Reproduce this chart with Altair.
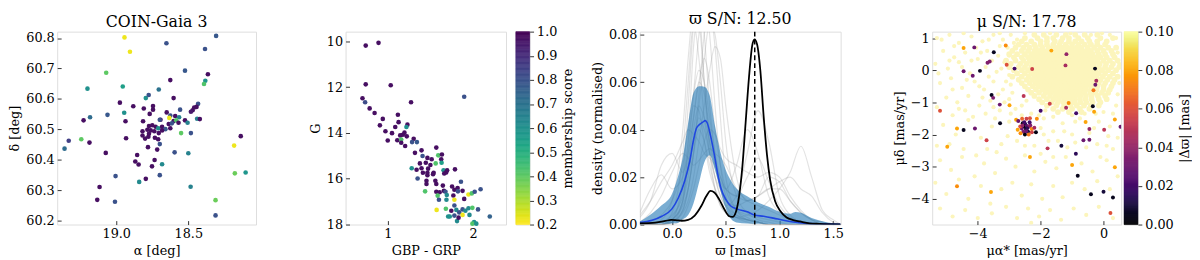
import altair as alt
import numpy as np
import pandas as pd

FONT = "DejaVu Serif"
H = 196

# ---------------- Panel 1: sky positions (alpha, delta, membership) ----------------
sky_points = [
    (18.943, 60.802, 0.22), (18.905, 60.755, 0.22), (18.652, 60.783, 0.80), (18.307, 60.807, 0.78),
    (18.384, 60.764, 0.80), (18.523, 60.693, 0.78), (19.070, 60.686, 0.40), (19.200, 60.634, 0.60),
    (18.955, 60.641, 0.55), (18.382, 60.660, 0.58), (18.391, 60.649, 0.42), (18.364, 60.681, 0.97),
    (18.625, 60.662, 0.97), (18.705, 60.631, 0.70), (18.795, 60.603, 0.60), (18.775, 60.613, 0.80),
    (18.602, 60.603, 0.97), (18.975, 60.588, 0.97), (18.882, 60.576, 0.97), (18.809, 60.569, 0.97),
    (18.745, 60.577, 0.97), (18.745, 60.565, 0.97), (18.557, 60.565, 0.80), (18.432, 60.584, 0.80),
    (18.459, 60.572, 0.97), (18.443, 60.574, 0.97), (18.470, 60.563, 0.97), (18.482, 60.558, 0.95),
    (19.061, 60.548, 0.78), (18.945, 60.555, 0.60), (19.182, 60.540, 0.72), (19.227, 60.530, 0.97),
    (18.936, 60.527, 0.97), (18.814, 60.527, 0.97), (18.768, 60.551, 0.97), (18.693, 60.532, 0.97),
    (18.650, 60.556, 0.97), (18.625, 60.546, 0.80), (18.602, 60.528, 0.97), (18.591, 60.544, 0.97),
    (18.564, 60.540, 0.65), (18.523, 60.530, 0.97), (18.505, 60.522, 0.65), (18.439, 60.535, 0.65),
    (18.420, 60.534, 0.97), (18.632, 60.538, 0.22), (18.584, 60.530, 0.42), (18.698, 60.532, 0.80),
    (18.773, 60.511, 0.97), (18.750, 60.514, 0.97), (18.727, 60.509, 0.97), (18.709, 60.504, 0.60),
    (18.682, 60.509, 0.97), (18.659, 60.501, 0.78), (18.636, 60.518, 0.97), (18.625, 60.504, 0.97),
    (18.614, 60.520, 0.80), (18.818, 60.494, 0.97), (18.784, 60.499, 0.97), (18.761, 60.497, 0.97),
    (18.736, 60.494, 0.97), (18.705, 60.488, 0.97), (18.682, 60.497, 0.97), (18.773, 60.486, 0.97),
    (18.777, 60.476, 0.97), (18.732, 60.473, 0.97), (18.709, 60.468, 0.97), (18.818, 60.480, 0.97),
    (18.800, 60.470, 0.97), (18.550, 60.488, 0.40), (18.568, 60.522, 0.97), (18.482, 60.488, 0.80),
    (19.243, 60.468, 0.40), (19.330, 60.463, 0.85), (19.359, 60.437, 0.72), (19.186, 60.457, 0.97),
    (18.932, 60.471, 0.97), (18.698, 60.452, 0.80), (18.780, 60.442, 0.97), (18.595, 60.425, 0.80),
    (18.500, 60.422, 0.65), (18.182, 60.447, 0.22), (18.136, 60.478, 0.97), (18.177, 60.356, 0.38),
    (18.102, 60.359, 0.58), (18.311, 60.268, 0.38), (18.311, 60.218, 0.80), (18.484, 60.312, 0.65),
    (19.073, 60.423, 0.97), (18.868, 60.395, 0.97), (18.845, 60.385, 0.97), (18.855, 60.416, 0.97),
    (18.752, 60.379, 0.97), (18.734, 60.400, 0.97), (18.682, 60.386, 0.62), (18.716, 60.434, 0.97),
    (19.005, 60.347, 0.80), (18.795, 60.338, 0.97), (18.698, 60.350, 0.80), (18.841, 60.328, 0.62),
    (19.116, 60.311, 0.97), (19.132, 60.269, 0.97), (19.009, 60.263, 0.80),
]

# ---------------- Panel 2: colour-magnitude diagram (BP-RP, G, membership) ----------------
cmd_points = [
    (0.742, 10.19, 0.97), (0.892, 10.07, 0.97), (0.742, 11.88, 0.97), (1.035, 11.92, 0.97),
    (0.704, 12.49, 0.97), (0.735, 12.66, 0.82), (1.896, 12.42, 0.80), (0.788, 12.93, 0.97),
    (0.846, 13.13, 0.97), (1.273, 12.66, 0.97), (1.119, 13.21, 0.97), (0.942, 13.39, 0.97),
    (1.127, 13.53, 0.97), (1.088, 13.74, 0.97), (0.908, 13.67, 0.97), (1.231, 13.64, 0.97),
    (1.219, 13.74, 0.60), (0.973, 13.93, 0.97), (1.050, 14.01, 0.97), (1.196, 13.99, 0.97),
    (1.177, 14.08, 0.97), (1.146, 14.11, 0.97), (1.000, 14.33, 0.97), (1.112, 14.32, 0.97),
    (1.223, 14.15, 0.97), (1.158, 14.29, 0.42), (1.158, 14.43, 0.97), (1.204, 14.57, 0.97),
    (1.304, 14.26, 0.97), (1.285, 14.40, 0.80), (1.342, 14.40, 0.78), (1.569, 14.64, 0.97),
    (1.319, 14.87, 0.97), (1.396, 14.76, 0.97), (1.408, 15.01, 0.80), (1.465, 15.09, 0.97),
    (1.592, 14.98, 0.42), (1.635, 14.94, 0.97), (1.515, 15.15, 0.97), (1.627, 15.15, 0.97),
    (1.446, 15.30, 0.97), (1.377, 15.33, 0.97), (1.500, 15.40, 0.97), (1.562, 15.33, 0.42),
    (1.631, 15.30, 0.55), (1.281, 15.54, 0.60), (1.338, 15.61, 0.97), (1.396, 15.54, 0.97),
    (1.473, 15.56, 0.97), (1.538, 15.74, 0.97), (1.654, 15.63, 0.60), (1.685, 15.73, 0.97),
    (1.662, 15.77, 0.97), (1.696, 15.63, 0.97), (1.788, 15.59, 0.97), (1.350, 15.99, 0.80),
    (1.412, 15.74, 0.97), (1.465, 15.85, 0.97), (1.465, 15.74, 0.97), (1.531, 15.80, 0.97),
    (1.454, 16.09, 0.97), (1.454, 16.23, 0.97), (1.558, 16.09, 0.97), (1.569, 16.23, 0.97),
    (1.438, 16.55, 0.42), (1.569, 16.57, 0.97), (1.608, 16.59, 0.97), (1.646, 16.30, 0.97),
    (1.658, 16.53, 0.97), (1.754, 16.34, 0.97), (1.677, 16.57, 0.80), (1.819, 16.41, 0.97),
    (1.781, 16.48, 0.97), (1.877, 16.53, 0.97), (1.858, 16.13, 0.80), (1.823, 16.55, 0.80),
    (1.946, 16.69, 0.22), (1.985, 16.64, 0.42), (2.019, 16.57, 0.80), (2.088, 16.46, 0.80),
    (2.058, 17.34, 0.80), (2.196, 17.65, 0.75), (1.585, 16.74, 0.42), (1.692, 16.71, 0.62),
    (1.600, 16.92, 0.80), (1.688, 16.92, 0.62), (1.769, 16.73, 0.97), (1.781, 16.92, 0.22),
    (1.896, 16.88, 0.97), (1.573, 17.36, 0.22), (1.681, 17.31, 0.42), (1.781, 17.17, 0.80),
    (1.804, 17.36, 0.62), (1.838, 17.47, 0.80), (1.877, 17.34, 0.80), (1.910, 17.40, 0.62),
    (1.946, 17.29, 0.62), (1.992, 17.27, 0.42), (1.708, 17.65, 0.60), (1.727, 17.65, 0.60),
    (1.781, 17.61, 0.80), (1.812, 17.85, 0.62), (1.877, 17.58, 0.22), (1.958, 17.58, 0.62),
    (2.012, 17.89, 0.60), (1.992, 17.96, 0.42), (2.038, 17.96, 0.60), (1.830, 17.70, 0.97),
    (1.745, 17.40, 0.97),
]

# ---------------- Panel 3: parallax densities ----------------
grey_x = [-0.3, -0.2, -0.1, 0.0, 0.1, 0.15, 0.2, 0.25, 0.3, 0.35, 0.4, 0.45, 0.5,
          0.6, 0.7, 0.8, 0.9, 1.0, 1.1, 1.2, 1.3, 1.4, 1.5, 1.57]
grey_curves = [
    [0, 0, 0.002, 0.01, 0.04, 0.07, 0.09, 0.085, 0.06, 0.035, 0.02, 0.012, 0.008, 0.004, 0.002, 0.001, 0, 0, 0, 0, 0, 0, 0, 0],
    [0, 0, 0, 0.003, 0.015, 0.03, 0.055, 0.08, 0.095, 0.08, 0.05, 0.025, 0.012, 0.004, 0.002, 0.001, 0, 0, 0, 0, 0, 0, 0, 0],
    [0, 0, 0, 0.002, 0.008, 0.015, 0.03, 0.05, 0.07, 0.085, 0.08, 0.06, 0.035, 0.012, 0.005, 0.002, 0.001, 0, 0, 0, 0, 0, 0, 0],
    [0, 0.001, 0.004, 0.01, 0.025, 0.04, 0.055, 0.065, 0.06, 0.045, 0.03, 0.02, 0.015, 0.012, 0.02, 0.028, 0.018, 0.008, 0.003, 0.001, 0, 0, 0, 0],
    [0.005, 0.015, 0.021, 0.015, 0.02, 0.035, 0.05, 0.048, 0.035, 0.022, 0.015, 0.01, 0.006, 0.003, 0.002, 0.001, 0, 0, 0, 0, 0, 0, 0, 0],
    [0.003, 0.01, 0.025, 0.03, 0.022, 0.03, 0.045, 0.06, 0.07, 0.06, 0.04, 0.025, 0.015, 0.006, 0.003, 0.001, 0, 0, 0, 0, 0, 0, 0, 0],
    [0, 0, 0, 0.001, 0.006, 0.015, 0.03, 0.04, 0.035, 0.025, 0.015, 0.008, 0.005, 0.003, 0.004, 0.006, 0.01, 0.015, 0.022, 0.033, 0.02, 0.006, 0.002, 0],
    [0, 0, 0, 0.002, 0.01, 0.02, 0.035, 0.045, 0.04, 0.03, 0.02, 0.012, 0.008, 0.012, 0.03, 0.048, 0.035, 0.012, 0.004, 0.001, 0, 0, 0, 0],
    [0, 0, 0.001, 0.004, 0.012, 0.025, 0.04, 0.05, 0.045, 0.035, 0.025, 0.018, 0.015, 0.025, 0.04, 0.03, 0.012, 0.005, 0.002, 0.001, 0, 0, 0, 0],
    [0, 0, 0, 0.002, 0.02, 0.05, 0.085, 0.1, 0.08, 0.05, 0.03, 0.015, 0.008, 0.003, 0.001, 0, 0, 0, 0, 0, 0, 0, 0, 0],
    [0.004, 0.01, 0.018, 0.025, 0.035, 0.04, 0.038, 0.035, 0.03, 0.028, 0.025, 0.02, 0.015, 0.012, 0.01, 0.012, 0.015, 0.015, 0.01, 0.005, 0.002, 0.001, 0, 0],
    [0, 0, 0, 0.001, 0.005, 0.01, 0.02, 0.035, 0.05, 0.065, 0.075, 0.07, 0.05, 0.02, 0.01, 0.012, 0.02, 0.018, 0.01, 0.005, 0.002, 0.001, 0, 0],
    [0, 0, 0, 0.001, 0.006, 0.015, 0.03, 0.055, 0.08, 0.09, 0.075, 0.045, 0.02, 0.006, 0.002, 0.001, 0, 0, 0, 0, 0, 0, 0, 0],
    [0.001, 0.005, 0.012, 0.022, 0.03, 0.028, 0.025, 0.027, 0.03, 0.032, 0.03, 0.028, 0.025, 0.015, 0.01, 0.008, 0.006, 0.004, 0.002, 0.001, 0, 0, 0, 0],
    [0, 0, 0, 0.002, 0.01, 0.025, 0.045, 0.06, 0.055, 0.04, 0.025, 0.015, 0.01, 0.008, 0.01, 0.012, 0.015, 0.018, 0.02, 0.015, 0.012, 0.005, 0.001, 0],
    [0, 0, 0, 0.005, 0.03, 0.06, 0.085, 0.07, 0.045, 0.03, 0.02, 0.015, 0.01, 0.006, 0.004, 0.003, 0.002, 0.001, 0, 0, 0, 0, 0, 0],
    [0, 0, 0, 0, 0.003, 0.008, 0.015, 0.025, 0.035, 0.04, 0.038, 0.032, 0.028, 0.025, 0.022, 0.02, 0.022, 0.02, 0.012, 0.006, 0.002, 0, 0, 0],
    [0, 0, 0, 0.001, 0.01, 0.035, 0.075, 0.09, 0.06, 0.03, 0.015, 0.008, 0.005, 0.003, 0.002, 0.001, 0, 0, 0, 0, 0, 0, 0, 0],
]

band_x = [-0.3, -0.2, -0.1, 0.0, 0.05, 0.1, 0.15, 0.2, 0.25, 0.3, 0.35, 0.4, 0.45, 0.5,
          0.55, 0.6, 0.7, 0.8, 0.9, 1.0, 1.1, 1.15, 1.2, 1.3, 1.4, 1.5, 1.57]
band_hi = [0.0013, 0.0042, 0.0080, 0.0130, 0.0195, 0.0285, 0.0429, 0.0555, 0.0583, 0.0581, 0.0545,
           0.0415, 0.0305, 0.0230, 0.0184, 0.0152, 0.0119, 0.0093, 0.0075, 0.0054, 0.0046, 0.0053,
           0.0050, 0.0028, 0.0014, 0.0005, 0.0001]
band_lo = [0.0001, 0.0002, 0.0003, 0.0004, 0.0006, 0.0022, 0.0040, 0.0090, 0.0175, 0.0262, 0.0292,
           0.0230, 0.0145, 0.0068, 0.0023, 0.0009, 0.0004, 0.0003, 0.0002, 0.0002, 0.0001, 0.0001,
           0.0001, 0.0001, 0.0001, 0.0001, 0.0001]

median_x = [-0.303, -0.187, -0.095, -0.003, 0.058, 0.119, 0.165, 0.196, 0.226, 0.257, 0.287, 0.309,
            0.327, 0.358, 0.394, 0.425, 0.456, 0.502, 0.547, 0.609, 0.700, 0.768, 0.853, 0.945,
            1.037, 1.128, 1.251, 1.373, 1.569]
median_y = [0.0008, 0.0018, 0.0035, 0.0065, 0.0112, 0.0186, 0.0267, 0.0348, 0.0405, 0.0422, 0.0432,
            0.0438, 0.0429, 0.0375, 0.0294, 0.0213, 0.0152, 0.0105, 0.0078, 0.0065, 0.0054, 0.0040,
            0.0035, 0.0027, 0.0018, 0.0011, 0.0005, 0.0003, 0.0001]

cluster_x = [-0.303, -0.156, -0.064, -0.009, 0.043, 0.089, 0.150, 0.211, 0.272, 0.318, 0.358, 0.394,
             0.440, 0.486, 0.532, 0.563, 0.593, 0.624, 0.654, 0.685, 0.716, 0.746, 0.768, 0.792,
             0.823, 0.853, 0.884, 0.914, 0.960, 1.006, 1.067, 1.128, 1.190, 1.281, 1.373, 1.569]
cluster_y = [0.0005, 0.0008, 0.0015, 0.0020, 0.0018, 0.0016, 0.0020, 0.0038, 0.0078, 0.0119, 0.0142,
             0.0135, 0.0105, 0.0065, 0.0035, 0.0032, 0.0051, 0.0119, 0.0240, 0.0429, 0.0618, 0.0753,
             0.0780, 0.0759, 0.0645, 0.0456, 0.0294, 0.0186, 0.0098, 0.0058, 0.0030, 0.0019, 0.0013,
             0.0005, 0.0003, 0.0001]

plx_cluster = 0.77

# ---------------- Panel 4: proper motions ----------------
# dense field-star cloud, read row by row (pmdec, [pmra ...])
field_rows = [
    (1.1, [-2.2, -1.9, -1.5, -1.2, -0.9, -0.6, -0.2]),
    (1.0, [-2.5, -2.1, -1.8, -1.6, -1.3, -1.1, -0.8, -0.5, -0.1, 0.3]),
    (0.9, [-2.6, -2.3, -2.0, -1.8, -1.55, -1.35, -1.1, -0.9, -0.7, -0.45, -0.2, 0.1]),
    (0.8, [-2.7, -2.45, -2.2, -2.0, -1.8, -1.6, -1.4, -1.2, -1.0, -0.8, -0.6, -0.4, -0.2, 0.05]),
    (0.7, [-2.8, -2.55, -2.35, -2.15, -1.95, -1.75, -1.6, -1.45, -1.3, -1.15, -1.0, -0.85, -0.7, -0.5, -0.3, -0.1, 0.15, 0.4]),
    (0.6, [-2.9, -2.6, -2.4, -2.2, -2.05, -1.9, -1.75, -1.6, -1.45, -1.3, -1.15, -1.0, -0.85, -0.7, -0.55, -0.4, -0.2, 0.0, 0.25]),
    (0.5, [-3.0, -2.75, -2.5, -2.3, -2.15, -2.0, -1.85, -1.7, -1.55, -1.4, -1.25, -1.1, -0.95, -0.8, -0.65, -0.5, -0.35, -0.15, 0.05, 0.3]),
    (0.4, [-2.85, -2.6, -2.4, -2.22, -2.07, -1.92, -1.78, -1.63, -1.48, -1.33, -1.18, -1.03, -0.88, -0.73, -0.58, -0.43, -0.27, -0.1, 0.1, 0.35]),
    (0.3, [-3.1, -2.8, -2.55, -2.35, -2.18, -2.02, -1.87, -1.72, -1.57, -1.42, -1.27, -1.12, -0.97, -0.82, -0.67, -0.52, -0.37, -0.2, 0.0, 0.2, 0.45]),
    (0.2, [-2.95, -2.65, -2.45, -2.27, -2.1, -1.95, -1.8, -1.65, -1.5, -1.35, -1.2, -1.05, -0.9, -0.75, -0.6, -0.45, -0.3, -0.12, 0.08, 0.3]),
    (0.1, [-3.0, -2.7, -2.5, -2.3, -2.12, -1.97, -1.82, -1.67, -1.52, -1.37, -1.22, -1.07, -0.92, -0.77, -0.62, -0.47, -0.32, -0.15, 0.05, 0.25, 0.5]),
    (0.0, [-2.85, -2.6, -2.4, -2.22, -2.05, -1.9, -1.75, -1.6, -1.45, -1.3, -1.15, -1.0, -0.85, -0.7, -0.55, -0.4, -0.25, -0.05, 0.15, 0.4]),
    (-0.1, [-2.75, -2.5, -2.3, -2.13, -1.97, -1.82, -1.67, -1.52, -1.37, -1.22, -1.07, -0.92, -0.77, -0.62, -0.47, -0.32, -0.15, 0.05, 0.3]),
    (-0.2, [-2.9, -2.6, -2.38, -2.2, -2.04, -1.89, -1.74, -1.59, -1.44, -1.29, -1.14, -0.99, -0.84, -0.69, -0.54, -0.39, -0.22, -0.02, 0.2, 0.45]),
    (-0.3, [-2.7, -2.45, -2.27, -2.1, -1.95, -1.8, -1.65, -1.5, -1.35, -1.2, -1.05, -0.9, -0.75, -0.6, -0.45, -0.28, -0.1, 0.12, 0.35]),
    (-0.4, [-2.6, -2.35, -2.17, -2.0, -1.85, -1.7, -1.55, -1.4, -1.25, -1.1, -0.95, -0.8, -0.65, -0.5, -0.33, -0.15, 0.05, 0.3]),
    (-0.5, [-2.5, -2.25, -2.07, -1.9, -1.75, -1.6, -1.45, -1.3, -1.15, -1.0, -0.85, -0.7, -0.55, -0.38, -0.2, 0.0, 0.25]),
    (-0.6, [-2.4, -2.15, -1.95, -1.78, -1.62, -1.47, -1.32, -1.17, -1.02, -0.87, -0.72, -0.57, -0.4, -0.22, 0.0, 0.2]),
    (-0.7, [-2.3, -2.05, -1.85, -1.68, -1.52, -1.37, -1.22, -1.07, -0.92, -0.77, -0.6, -0.42, -0.25, -0.05, 0.15]),
    (-0.8, [-2.2, -1.9, -1.7, -1.52, -1.36, -1.2, -1.05, -0.9, -0.74, -0.56, -0.38, -0.18, 0.05]),
    (-0.9, [-2.05, -1.8, -1.6, -1.42, -1.25, -1.08, -0.92, -0.75, -0.57, -0.38, -0.15, 0.1]),
    (-1.0, [-1.95, -1.65, -1.45, -1.27, -1.1, -0.92, -0.74, -0.55, -0.35, -0.1]),
    (-1.1, [-1.8, -1.5, -1.25, -1.05, -0.85, -0.62, -0.4, -0.15]),
    (-1.2, [-1.6, -1.3, -1.0, -0.75, -0.45]),
    (-1.3, [-1.45, -1.1, -0.7]),
]

# sparser field stars (pmra, pmdec)
field_scatter = [
    (-5.3, 1.0), (-4.9, 1.1), (-4.6, 0.85), (-4.2, 1.05), (-3.85, 0.9), (-3.5, 1.1), (-3.2, 0.95), (-2.95, 1.1),
    (-5.1, 0.6), (-4.75, 0.4), (-4.4, 0.55), (-4.0, 0.35), (-3.7, 0.6), (-3.35, 0.45), (-3.05, 0.7),
    (-5.35, 0.2), (-4.95, 0.05), (-4.6, 0.25), (-4.25, -0.1), (-3.75, 0.1), (-3.4, -0.05), (-3.15, 0.25),
    (-5.2, -0.4), (-4.85, -0.25), (-4.5, -0.55), (-4.1, -0.35), (-3.8, -0.6), (-3.5, -0.35), (-3.2, -0.6),
    (-2.95, -0.45), (-5.0, -0.85), (-4.65, -1.0), (-4.3, -0.8), (-3.95, -1.1), (-3.6, -0.95), (-3.3, -1.25),
    (-3.0, -0.9), (-2.8, -1.2), (-5.3, -1.15), (-4.8, -1.4), (-4.4, -1.25), (-3.75, -1.35), (-3.45, -1.5),
    (-5.1, -1.7), (-4.7, -2.0), (-4.3, -1.55), (-3.9, -2.1), (-3.55, -1.75), (-3.25, -2.3), (-3.0, -1.6),
    (-2.75, -2.2), (-2.2, -2.35), (-1.9, -1.5), (-1.6, -1.9), (-1.3, -1.65), (-1.0, -2.0), (-0.75, -1.5),
    (-0.45, -1.95), (-0.15, -1.6), (0.2, -1.75), (0.45, -2.1), (-5.3, -2.35), (-4.45, -2.45), (-1.75, -2.2),
    (-1.15, -2.4), (-0.2, -2.3), (0.3, -2.45), (-2.0, -1.8), (-3.7, -2.45), (-0.6, -1.35), (0.0, -1.3),
    (0.4, -1.1), (-2.3, -1.35), (-1.85, -1.25), (-2.6, -1.4), (0.4, 1.0), (0.45, 0.55), (-0.05, 1.15),
    (-5.2, -2.8), (-4.85, -3.1), (-4.5, -2.7), (-4.1, -3.3), (-3.8, -2.9), (-3.45, -3.2), (-3.1, -2.75),
    (-2.8, -3.0), (-2.5, -2.65), (-2.2, -3.15), (-1.85, -2.85), (-1.5, -3.05), (-1.2, -2.7), (-0.7, -2.9),
    (-0.35, -3.15), (0.1, -2.8), (0.45, -3.3), (-5.35, -3.5), (-5.0, -3.85), (-4.6, -3.4), (-4.3, -4.0),
    (-3.9, -3.6), (-3.6, -4.15), (-3.25, -3.7), (-2.9, -3.5), (-2.6, -3.9), (-2.3, -3.55), (-1.95, -4.0),
    (-1.6, -3.6), (-1.3, -3.95), (-1.0, -3.5), (-0.6, -3.7), (-0.2, -3.45), (0.2, -3.7), (-5.2, -4.3),
    (-4.8, -4.55), (-4.4, -4.35), (-4.0, -4.6), (-3.55, -4.45), (-3.1, -4.25), (-2.75, -4.6), (-2.4, -4.3),
    (-2.05, -4.55), (-1.7, -4.35), (-1.35, -4.65), (-0.95, -4.3), (-0.55, -4.5), (-0.15, -4.25), (0.3, -4.6),
    (-2.3, -4.75), (-4.9, -2.3),
    (-5.15, 0.95), (-4.75, 0.75), (-4.45, 1.15), (-4.05, 0.7), (-3.65, 0.95), (-3.3, 0.75), (-3.0, 0.45),
    (-2.75, 0.95), (-4.9, 0.3), (-4.5, 0.1), (-4.2, 0.3), (-3.9, 0.55), (-3.55, 0.3), (-3.25, 0.05),
    (-3.0, -0.15), (-5.25, -0.1), (-4.8, -0.6), (-4.35, -0.3), (-3.95, -0.5), (-3.65, -0.2), (-3.35, -0.75),
    (-3.1, -0.35), (-2.9, -0.7), (-4.6, -1.2), (-4.15, -1.45), (-3.85, -0.85), (-3.5, -1.15), (-3.15, -1.0),
    (-2.95, -1.35), (-2.6, -1.1), (-2.45, -0.95), (0.5, 0.2), (0.5, -0.4), (0.45, -0.75), (0.3, -1.35),
    (-0.25, -1.35), (-1.0, -1.4), (-1.6, -1.45), (-2.05, -1.4), (-0.9, -1.6), (-0.3, -1.8), (0.15, -2.05),
    (-1.25, -1.9), (-1.9, -2.0), (-0.55, -2.4), (-1.45, -2.2), (0.1, -2.35), (-2.5, -2.35), (-3.05, -2.05),
    (-3.4, -2.55), (-4.05, -2.65), (-2.0, -2.6), (-1.6, -2.7), (-0.9, -2.25), (-0.1, -2.7), (-2.5, 1.15),
    (-1.7, 1.15), (-1.05, 1.15), (-0.4, 1.1), (0.2, 1.1), (-2.85, 0.85), (-3.3, 1.15),
]

# proper-motion stars with a small parallax offset (pmra, pmdec, |dplx|)
pm_members = [
    (-4.45, 0.69, 0.080), (-4.11, 0.71, 0.030), (-3.49, 0.56, 0.005), (-3.11, 0.77, 0.075),
    (-3.69, 0.23, 0.035), (-3.62, 0.27, 0.035), (-4.45, -0.03, 0.030), (-4.16, -0.17, 0.030),
    (-3.93, -0.02, 0.005), (-3.08, 0.17, 0.060), (-2.83, 0.05, 0.020), (-2.27, 0.04, 0.055),
    (-1.66, 0.61, 0.080), (-1.18, 0.50, 0.040), (-1.21, 0.15, 0.045), (-0.27, 0.05, 0.005),
    (-0.26, -0.45, 0.030), (-0.32, -0.62, 0.070), (-0.23, -0.33, 0.045), (-3.56, -0.77, 0.005),
    (-3.51, -0.86, 0.035), (-3.30, -1.07, 0.030), (-2.54, -0.80, 0.050), (-2.99, -1.09, 0.080),
    (-1.71, -1.04, 0.055), (-1.11, -1.02, 0.075), (-1.19, -1.17, 0.045), (-0.34, -1.12, 0.005),
    (-0.30, -1.29, 0.080), (-2.00, -1.26, 0.020), (-0.87, -1.34, 0.020), (-0.57, -1.61, 0.080),
    (0.36, -1.53, 0.080), (0.54, -1.76, 0.030), (-0.45, -1.83, 0.040), (0.02, -1.85, 0.050),
    (-5.20, -1.26, 0.060), (-4.66, -1.81, 0.080), (-4.45, -1.86, 0.005), (-4.09, -1.81, 0.030),
    (-3.29, -1.65, 0.005), (-3.72, -2.18, 0.055), (-4.97, -2.38, 0.080), (-0.64, -2.18, 0.030),
    (-0.45, -2.16, 0.030), (-1.78, -2.43, 0.050), (-1.34, -2.35, 0.010), (-0.88, -2.60, 0.015),
    (-2.34, -2.70, 0.080), (-1.00, -2.95, 0.080), (0.36, -3.02, 0.080), (-0.82, -3.28, 0.005),
    (-4.66, -3.61, 0.075), (-3.58, -3.79, 0.080), (-0.40, -3.86, 0.005), (0.00, -3.78, 0.010),
    (0.30, -3.96, 0.005), (0.22, -4.44, 0.060),
    # cluster core
    (-2.78, -1.54, 0.080), (-2.71, -1.58, 0.030), (-2.59, -1.51, 0.065), (-2.45, -1.51, 0.055),
    (-2.34, -1.49, 0.060), (-2.12, -1.51, 0.075), (-2.57, -1.65, 0.002), (-2.49, -1.68, 0.012),
    (-2.52, -1.75, 0.003), (-2.44, -1.73, 0.025), (-2.36, -1.75, 0.050), (-2.60, -1.81, 0.030),
    (-2.47, -1.83, 0.008), (-2.33, -1.71, 0.035), (-2.65, -1.75, 0.060), (-2.28, -1.83, 0.075),
    (-2.20, -1.79, 0.045), (-2.73, -1.85, 0.080), (-2.55, -1.91, 0.035), (-2.40, -1.91, 0.010),
    (-2.28, -1.93, 0.055), (-2.15, -1.93, 0.003), (-2.50, -2.00, 0.002), (-2.38, -2.00, 0.070),
    (-2.64, -1.96, 0.075), (-2.52, -1.62, 0.020), (-2.42, -1.80, 0.015), (-2.58, -1.72, 0.040),
    (-2.46, -1.90, 0.030), (-2.35, -1.62, 0.020),
]

# colour-bar tick labels
memb_ticks = [0.2, 0.3, 0.4, 0.5, 0.6, 0.7, 0.8, 0.9, 1.0]
dplx_ticks = [0.0, 0.02, 0.04, 0.06, 0.08, 0.10]

# ---------------- data frames ----------------
df_sky = pd.DataFrame(sky_points, columns=["ra", "dec", "m"])
df_cmd = pd.DataFrame(cmd_points, columns=["c", "g", "m"])

grey_rows = []
for i, ys in enumerate(grey_curves):
    for xv, yv in zip(grey_x, ys):
        grey_rows.append({"x": xv, "y": yv, "curve": i})
df_grey = pd.DataFrame(grey_rows)
df_band = pd.DataFrame({"x": band_x, "y": band_lo, "y2": band_hi})
df_med = pd.DataFrame({"x": median_x, "y": median_y})
df_cl = pd.DataFrame({"x": cluster_x, "y": cluster_y})
df_ref = pd.DataFrame({"x": [plx_cluster]})

df_cloud = pd.DataFrame([(xv, yv) for yv, xs in field_rows for xv in xs], columns=["x", "y"])
df_field = pd.DataFrame(field_scatter, columns=["x", "y"])
df_pm = pd.DataFrame(pm_members, columns=["x", "y", "c"])

# colour-bar ramps
cb_m = np.round(np.arange(0.2, 1.0, 0.005), 4)
df_cb2 = pd.DataFrame({"v": cb_m, "v2": np.round(cb_m + 0.005, 4)})
cb_d = np.round(np.arange(0.0, 0.1, 0.0005), 5)
df_cb4 = pd.DataFrame({"v": cb_d, "v2": np.round(cb_d + 0.0005, 5)})

# ---------------- helpers ----------------
def inax(title, values, fmt, **extra):
    d = dict(title=title, values=values, format=fmt, domain=False, offset=-4, tickSize=4,
             tickWidth=1, tickColor="#333333", labelPadding=3, grid=False, labelFont=FONT,
             titleFont=FONT, labelFontSize=13, titleFontSize=13, titleFontWeight="normal",
             labelColor="black", titleColor="black", titlePadding=4)
    d.update(extra)
    return alt.Axis(**d)


def cbax(title, values, fmt):
    return alt.Axis(title=title, values=values, format=fmt, orient="right", domain=False,
                    tickSize=4, tickColor="#333333", labelPadding=3, grid=False, labelFont=FONT,
                    titleFont=FONT, labelFontSize=13, titleFontSize=13, titleFontWeight="normal",
                    labelColor="black", titleColor="black", titleAngle=270, titleBaseline="top",
                    titlePadding=5)


def ttl(text):
    return alt.TitleParams(text=text, font=FONT, fontSize=16, fontWeight="normal", color="black", offset=2)


def spacer(w):
    return alt.Chart(pd.DataFrame({"s": [0]})).mark_point(opacity=0).encode(
        x=alt.X("s:Q", axis=None), y=alt.Y("s:Q", axis=None)
    ).properties(width=w, height=H, view=alt.ViewBackground(strokeOpacity=0))


vir = alt.Scale(scheme="viridis", reverse=True, domain=[0.2, 1.0])
inf = alt.Scale(scheme="inferno", domain=[0.0, 0.1], clamp=True)

# ---------------- panel 1 ----------------
p1 = alt.Chart(df_sky).mark_circle(size=22, opacity=1).encode(
    x=alt.X("ra:Q", scale=alt.Scale(domain=[18.03, 19.41], reverse=True, nice=False, zero=False),
            axis=inax("α [deg]", [18.5, 19.0], ".1f")),
    y=alt.Y("dec:Q", scale=alt.Scale(domain=[60.188, 60.821], nice=False, zero=False),
            axis=inax("δ [deg]", [60.2, 60.3, 60.4, 60.5, 60.6, 60.7, 60.8], ".1f")),
    color=alt.Color("m:Q", scale=vir, legend=None),
).properties(width=202, height=H, title=ttl("COIN-Gaia 3"))

# ---------------- panel 2 ----------------
p2 = alt.Chart(df_cmd).mark_circle(size=22, opacity=1).encode(
    x=alt.X("c:Q", scale=alt.Scale(domain=[0.506, 2.386], nice=False, zero=False),
            axis=inax("GBP - GRP", [1, 2], "d")),
    y=alt.Y("g:Q", scale=alt.Scale(domain=[9.58, 18.0], reverse=True, nice=False, zero=False),
            axis=inax("G", [10, 12, 14, 16, 18], "d")),
    color=alt.Color("m:Q", scale=vir, legend=None),
).properties(width=163, height=H)

cb2 = alt.Chart(df_cb2).mark_rect(strokeWidth=0.6).encode(
    x=alt.value(0), x2=alt.value(14),
    y=alt.Y("v:Q", scale=alt.Scale(domain=[0.2, 1.0], nice=False, zero=False),
            axis=cbax("membership score", memb_ticks, ".1f")),
    y2="v2:Q",
    color=alt.Color("v:Q", scale=vir, legend=None),
    stroke=alt.Stroke("v:Q", scale=vir, legend=None),
).properties(width=14, height=H)

# ---------------- panel 3 ----------------
x3 = alt.X("x:Q", scale=alt.Scale(domain=[-0.3, 1.57], nice=False, zero=False),
           axis=inax("ϖ [mas]", [0.0, 0.5, 1.0, 1.5], ".1f"))
y3 = alt.Y("y:Q", scale=alt.Scale(domain=[0, 0.0813], nice=False, zero=False),
           axis=inax("density (normalised)", [0.0, 0.02, 0.04, 0.06, 0.08], ".2f"))

grey = alt.Chart(df_grey).mark_line(color="#9a9a9a", opacity=0.28, strokeWidth=1.2,
                                    interpolate="monotone", clip=True).encode(
    x=x3, y=y3, detail="curve:N")
band = alt.Chart(df_band).mark_area(color="#1f77b4", opacity=0.6, interpolate="monotone",
                                    clip=True).encode(x=x3, y=y3, y2="y2:Q")
med = alt.Chart(df_med).mark_line(color="#1f46e0", strokeWidth=1.6, interpolate="monotone",
                                  clip=True).encode(x=x3, y=y3)
clus = alt.Chart(df_cl).mark_line(color="black", strokeWidth=1.8, interpolate="monotone",
                                  clip=True).encode(x=x3, y=y3)
ref = alt.Chart(df_ref).mark_rule(color="black", strokeDash=[5, 3], strokeWidth=1.5).encode(x=x3)

p3 = alt.layer(grey, band, med, clus, ref).properties(width=204, height=H,
                                                      title=ttl("ϖ S/N: 12.50"))

# ---------------- panel 4 ----------------
x4 = alt.X("x:Q", scale=alt.Scale(domain=[-5.45, 0.56], nice=False, zero=False),
           axis=inax("μα* [mas/yr]", [-4, -2, 0], "d"))
y4 = alt.Y("y:Q", scale=alt.Scale(domain=[-4.8, 1.2], nice=False, zero=False),
           axis=inax("μδ [mas/yr]", [1, 0, -1, -2, -3, -4], "d"))

cloud = alt.Chart(df_cloud).mark_circle(size=34, color="#fcf5bc", opacity=1, clip=True).encode(x=x4, y=y4)
field = alt.Chart(df_field).mark_circle(size=18, color="#fcf5bc", opacity=1, clip=True).encode(x=x4, y=y4)
pml = alt.Chart(df_pm).mark_circle(size=16, opacity=1, clip=True).encode(
    x=x4, y=y4, color=alt.Color("c:Q", scale=inf, legend=None))
p4 = alt.layer(cloud, field, pml).properties(width=192, height=H, title=ttl("μ S/N: 17.78"))

cb4 = alt.Chart(df_cb4).mark_rect(strokeWidth=0.6).encode(
    x=alt.value(0), x2=alt.value(14),
    y=alt.Y("v:Q", scale=alt.Scale(domain=[0.0, 0.1], nice=False, zero=False),
            axis=cbax("|Δϖ| [mas]", dplx_ticks, ".2f")),
    y2="v2:Q",
    color=alt.Color("v:Q", scale=inf, legend=None),
    stroke=alt.Stroke("v:Q", scale=inf, legend=None),
).properties(width=14, height=H)

chart = alt.hconcat(
    p1, spacer(91), p2, spacer(10), cb2, spacer(112), p3, spacer(93), p4, spacer(3), cb4,
    spacing=0, bounds="flush",
).resolve_scale(color="independent", stroke="independent").properties(padding=0).configure_view(
    stroke="#444444", strokeWidth=1).configure(font=FONT)

chart.save("out.html", embed_options={"renderer": "svg", "actions": False})
